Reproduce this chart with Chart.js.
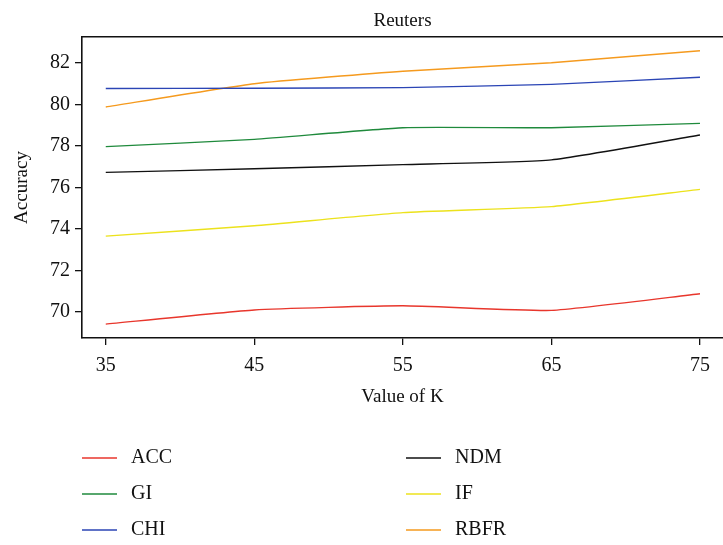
<!DOCTYPE html>
<html>
<head>
<meta charset="utf-8">
<script src="https://cdn.jsdelivr.net/npm/chart.js@4"></script>
<style>
  html, body { margin: 0; padding: 0; background: #fff; }
  #wrap { width: 723px; height: 545px; position: relative; }
</style>
</head>
<body>
<div id="wrap"><canvas id="c" width="723" height="545"></canvas></div>
<script>
// Feature selection accuracy on Reuters for different K
const kValues = [35, 45, 55, 65, 75];
const accValues  = [69.42, 70.10, 70.30, 70.08, 70.88];
const giValues   = [77.97, 78.32, 78.88, 78.88, 79.09];
const chiValues  = [80.77, 80.78, 80.81, 80.97, 81.31];
const ndmValues  = [76.73, 76.90, 77.10, 77.33, 78.53];
const ifValues   = [73.66, 74.16, 74.79, 75.08, 75.91];
const rbfrValues = [79.88, 81.00, 81.60, 82.01, 82.59];
const yTicks = [70, 72, 74, 76, 78, 80, 82];

const seriesNames  = ['ACC', 'GI', 'CHI', 'NDM', 'IF', 'RBFR'];
const seriesData   = [accValues, giValues, chiValues, ndmValues, ifValues, rbfrValues];
const seriesColors = ['#e8362c', '#1f8a3c', '#2b45b5', '#111111', '#ece21c', '#f59a1e'];

const FONT = "'Liberation Serif', 'DejaVu Serif', serif";

const datasets = seriesNames.map((name, i) => ({
  label: name,
  data: kValues.map((k, j) => ({ x: k, y: seriesData[i][j] })),
  borderColor: seriesColors[i],
  backgroundColor: seriesColors[i],
  borderWidth: 1.4,
  pointRadius: 0,
  tension: 0.15,
  fill: false
}));

// Two-column legend below the plot
const bottomLegend = {
  id: 'bottomLegend',
  afterDraw(chart) {
    const ctx = chart.ctx;
    ctx.save();
    ctx.font = '20px ' + FONT;
    ctx.textBaseline = 'middle';
    ctx.fillStyle = '#111';
    const colX = [82, 406];
    const rowY = [458, 494, 530];
    chart.data.datasets.forEach((ds, i) => {
      const col = Math.floor(i / 3), row = i % 3;
      const x = colX[col], y = rowY[row];
      ctx.strokeStyle = ds.borderColor;
      ctx.lineWidth = 1.6;
      ctx.beginPath();
      ctx.moveTo(x, y);
      ctx.lineTo(x + 35, y);
      ctx.stroke();
      ctx.fillText(ds.label, x + 49, y);
    });
    ctx.restore();
  }
};

new Chart(document.getElementById('c'), {
  type: 'line',
  data: { datasets },
  plugins: [bottomLegend],
  options: {
    responsive: false,
    animation: false,
    layout: { padding: { left: 0, right: 0, top: 0, bottom: 127 } },
    plugins: { legend: { display: false }, title: { display: false }, tooltip: { enabled: false } },
    scales: {
      x: {
        type: 'linear',
        position: 'bottom',
        min: 33.4,
        max: 76.55,
        afterBuildTicks(scale) { scale.ticks = kValues.map(v => ({ value: v })); },
        afterFit(scale) { scale.height = 80; },
        grid: { drawOnChartArea: false, drawTicks: true, tickLength: 7, color: '#111', lineWidth: 1.3 },
        border: { display: true, color: '#111', width: 1.6 },
        ticks: { color: '#111', font: { family: FONT, size: 20 }, padding: 9, maxRotation: 0 },
        title: { display: true, text: 'Value of K', color: '#111', font: { family: FONT, size: 19 }, padding: { top: 0, bottom: 10 } }
      },
      x2: {
        type: 'linear',
        position: 'top',
        min: 33.4,
        max: 76.55,
        afterBuildTicks(scale) { scale.ticks = []; },
        afterFit(scale) { scale.height = 37; },
        grid: { drawOnChartArea: false, drawTicks: false },
        border: { display: true, color: '#111', width: 1.6 },
        ticks: { display: false },
        title: { display: true, text: 'Reuters', color: '#111', font: { family: FONT, size: 19 }, padding: { top: 10, bottom: 0 } }
      },
      y: {
        type: 'linear',
        min: 68.75,
        max: 83.25,
        afterBuildTicks(scale) { scale.ticks = yTicks.map(v => ({ value: v })); },
        afterFit(scale) { scale.width = 82; },
        grid: { drawOnChartArea: false, drawTicks: true, tickLength: 7, color: '#111', lineWidth: 1.3 },
        border: { display: true, color: '#111', width: 1.6 },
        ticks: { color: '#111', font: { family: FONT, size: 20 }, padding: 5 },
        title: { display: true, text: 'Accuracy', color: '#111', font: { family: FONT, size: 19 }, padding: { top: 11, bottom: 0 } }
      }
    }
  }
});
</script>
</body>
</html>
